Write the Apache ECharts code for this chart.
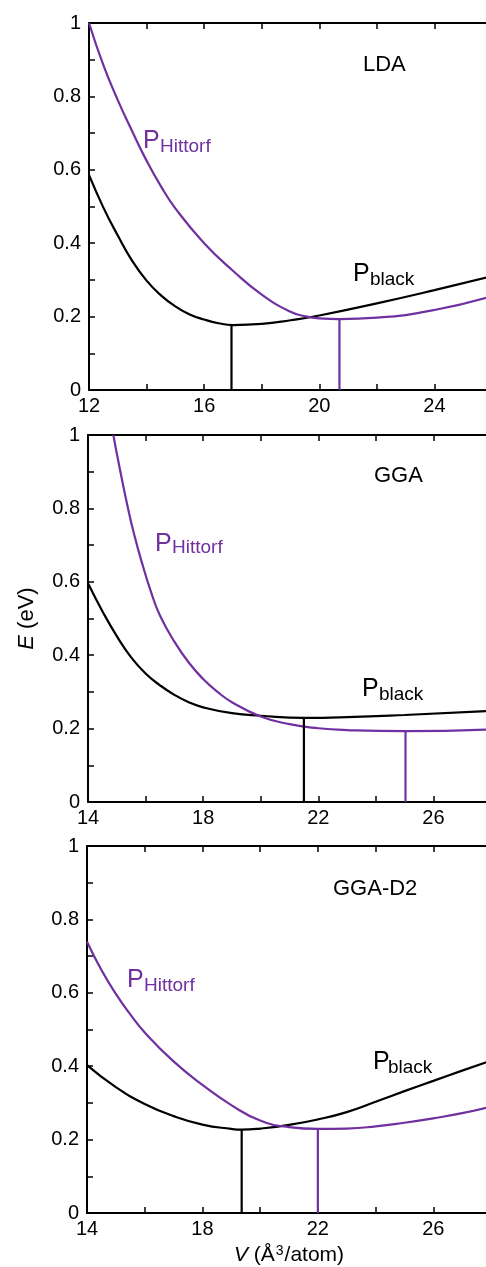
<!DOCTYPE html>
<html>
<head>
<meta charset="utf-8">
<script src="https://cdn.jsdelivr.net/npm/echarts@6/dist/echarts.min.js"></script>
<style>
html,body{margin:0;padding:0;background:#fff;}
#c{width:486px;height:1267px;}
</style>
</head>
<body>
<div id="c"></div>
<script>
// ---- data ----
const panelNames = ['LDA', 'GGA', 'GGA-D2'];
const xMin = [12, 14, 14];
const xMax = [26, 28, 28];
const xTickLabels = [[12, 16, 20, 24], [14, 18, 22, 26], [14, 18, 22, 26]];
const yTickLabels = [0, 0.2, 0.4, 0.6, 0.8, 1];

// LDA
const ldaBlackV = [12, 12.5, 13, 13.5, 14, 14.5, 15, 15.5, 16, 16.5, 17, 18, 19, 20, 22, 24, 26];
const ldaBlackE = [0.586, 0.497, 0.421, 0.352, 0.298, 0.258, 0.228, 0.206, 0.192, 0.182, 0.177, 0.18, 0.19, 0.203, 0.236, 0.272, 0.31];
const ldaHittV = [12, 12.5, 13, 13.5, 14, 14.5, 15, 16, 17, 18, 19, 19.5, 20, 20.7, 22, 24, 26];
const ldaHittE = [1.0, 0.885, 0.79, 0.705, 0.625, 0.555, 0.495, 0.4, 0.325, 0.26, 0.213, 0.201, 0.195, 0.193, 0.197, 0.218, 0.256];
// GGA
const ggaBlackV = [14, 14.5, 15, 15.5, 16, 16.5, 17, 17.5, 18, 19, 20, 21.5, 23, 25, 28];
const ggaBlackE = [0.596, 0.52, 0.452, 0.394, 0.35, 0.318, 0.292, 0.272, 0.258, 0.242, 0.235, 0.229, 0.231, 0.237, 0.248];
const ggaHittV = [14.88, 15.1, 15.35, 15.6, 15.9, 16.2, 16.5, 17, 17.5, 18, 18.5, 19, 20, 21, 22, 23, 25, 28];
const ggaHittE = [1.0, 0.91, 0.815, 0.73, 0.645, 0.57, 0.508, 0.437, 0.38, 0.335, 0.3, 0.272, 0.233, 0.212, 0.201, 0.196, 0.193, 0.198];
// GGA-D2
const d2BlackV = [14, 15, 16, 17, 18, 19, 19.36, 20, 21, 22, 23, 24, 25, 26, 27, 28];
const d2BlackE = [0.403, 0.343, 0.297, 0.264, 0.241, 0.229, 0.227, 0.23, 0.24, 0.255, 0.275, 0.303, 0.332, 0.36, 0.388, 0.415];
const d2HittV = [14, 14.5, 15, 15.5, 16, 17, 18, 19, 20, 21, 22, 23, 24, 25, 26, 27, 28];
const d2HittE = [0.739, 0.662, 0.597, 0.541, 0.492, 0.413, 0.349, 0.294, 0.252, 0.234, 0.229, 0.23, 0.236, 0.246, 0.258, 0.272, 0.29];

// equilibrium (minimum) points: [V, E]
const minBlack = [[16.95, 0.177], [21.5, 0.229], [19.36, 0.227]];
const minHitt = [[20.7, 0.193], [25.03, 0.193], [22.0, 0.229]];

const blackCurves = [[ldaBlackV, ldaBlackE], [ggaBlackV, ggaBlackE], [d2BlackV, d2BlackE]];
const hittCurves = [[ldaHittV, ldaHittE], [ggaHittV, ggaHittE], [d2HittV, d2HittE]];

// ---- styling ----
const FONT = '"Liberation Sans", Arial, Helvetica, sans-serif';
const PURPLE = '#7030a0';
const grids = [
  {left: 89, top: 23, width: 403, height: 367},
  {left: 88, top: 435, width: 403, height: 367},
  {left: 87, top: 846, width: 404, height: 367}
];

const zip = (a, b) => a.map((v, i) => [v, b[i]]);

const option = {
  animation: false,
  backgroundColor: '#fff',
  grid: grids.map(g => Object.assign({containLabel: false, outerBoundsMode: 'none'}, g)),
  xAxis: [],
  yAxis: [],
  series: [],
  graphic: []
};

for (let p = 0; p < 3; p++) {
  const mn = xMin[p], labs = xTickLabels[p];
  option.xAxis.push({
    type: 'value', gridIndex: p, position: 'bottom',
    min: mn, max: xMax[p], interval: 2,
    axisLine: {lineStyle: {color: '#000', width: 2}},
    axisTick: {inside: true, length: 6, lineStyle: {color: '#000', width: 1.5}},
    splitLine: {show: false},
    axisLabel: {
      color: '#000', fontSize: 20, fontFamily: FONT, margin: 6,
      formatter: v => (labs.indexOf(Math.round(v)) >= 0 ? String(Math.round(v)) : '')
    },
    name: p === 2 ? '{i|V} ({n|Å}{s|3}{n|/atom})' : '',
    nameLocation: 'middle', nameGap: 31,
    nameTextStyle: {
      fontFamily: FONT, color: '#000', fontSize: 21,
      rich: {
        i: {fontStyle: 'italic', fontSize: 21, fontFamily: FONT, color: '#000'},
        n: {fontSize: 21, fontFamily: FONT, color: '#000'},
        s: {fontSize: 14, fontFamily: FONT, color: '#000', verticalAlign: 'top', padding: [0, 1, 8, 1]}
      }
    }
  });
  option.xAxis.push({
    type: 'value', gridIndex: p, position: 'top',
    min: mn, max: xMax[p], interval: 2,
    axisLine: {lineStyle: {color: '#000', width: 2}},
    axisTick: {inside: true, length: 6, lineStyle: {color: '#000', width: 1.5}},
    splitLine: {show: false},
    axisLabel: {show: false}
  });
  option.yAxis.push({
    type: 'value', gridIndex: p, position: 'left',
    min: 0, max: 1, interval: 0.1,
    axisLine: {lineStyle: {color: '#000', width: 2}},
    axisTick: {inside: true, length: 6, lineStyle: {color: '#000', width: 1.5}},
    splitLine: {show: false},
    axisLabel: {
      color: '#000', fontSize: 20, fontFamily: FONT, margin: 8,
      formatter: v => {
        const r = Math.round(v * 10) / 10;
        return yTickLabels.some(t => Math.abs(t - r) < 1e-6) ? String(r) : '';
      }
    },
    name: p === 1 ? '{i|E} (eV)' : '',
    nameLocation: 'middle', nameGap: 50, nameRotate: 90,
    nameTextStyle: {
      fontFamily: FONT, color: '#000', fontSize: 22,
      rich: {i: {fontStyle: 'italic', fontSize: 22, fontFamily: FONT, color: '#000'}}
    }
  });

  const xb = 2 * p, yb = p;
  const common = {type: 'line', xAxisIndex: xb, yAxisIndex: yb, showSymbol: false, symbol: 'none', silent: true};
  option.series.push(Object.assign({}, common, {
    data: zip(blackCurves[p][0], blackCurves[p][1]), smooth: 0.5,
    lineStyle: {color: '#000', width: 2.2}
  }));
  option.series.push(Object.assign({}, common, {
    data: zip(hittCurves[p][0], hittCurves[p][1]), smooth: 0.5,
    lineStyle: {color: PURPLE, width: 2.2}
  }));
  option.series.push(Object.assign({}, common, {
    data: [[minBlack[p][0], 0], [minBlack[p][0], minBlack[p][1]]],
    lineStyle: {color: '#000', width: 2.2}
  }));
  option.series.push(Object.assign({}, common, {
    data: [[minHitt[p][0], 0], [minHitt[p][0], minHitt[p][1]]],
    lineStyle: {color: PURPLE, width: 2.2}
  }));
}

// ---- text annotations (pixel placement) ----
const annot = [
  {name: [363, 65], hP: [143, 141], hS: [160, 147], bP: [353, 274], bS: [370, 280]},
  {name: [374, 476], hP: [155, 544], hS: [172, 548], bP: [362, 689], bS: [379, 695]},
  {name: [333, 889], hP: [127, 980], hS: [144, 986], bP: [373, 1062], bS: [388, 1068]}
];
annot.forEach((a, p) => {
  option.graphic.push({type: 'text', x: a.name[0], y: a.name[1], z: 100,
    style: {text: panelNames[p], fontSize: 22, fontFamily: FONT, fill: '#000', verticalAlign: 'middle'}});
  option.graphic.push({type: 'text', x: a.hP[0], y: a.hP[1], z: 100,
    style: {text: 'P', fontSize: 25, fontFamily: FONT, fill: PURPLE, verticalAlign: 'middle'}});
  option.graphic.push({type: 'text', x: a.hS[0], y: a.hS[1], z: 100,
    style: {text: 'Hittorf', fontSize: 19, fontFamily: FONT, fill: PURPLE, verticalAlign: 'middle'}});
  option.graphic.push({type: 'text', x: a.bP[0], y: a.bP[1], z: 100,
    style: {text: 'P', fontSize: 25, fontFamily: FONT, fill: '#000', verticalAlign: 'middle'}});
  option.graphic.push({type: 'text', x: a.bS[0], y: a.bS[1], z: 100,
    style: {text: 'black', fontSize: 19, fontFamily: FONT, fill: '#000', verticalAlign: 'middle'}});
});

const chart = echarts.init(document.getElementById('c'), null, {renderer: 'canvas'});
chart.setOption(option);
</script>
</body>
</html>
